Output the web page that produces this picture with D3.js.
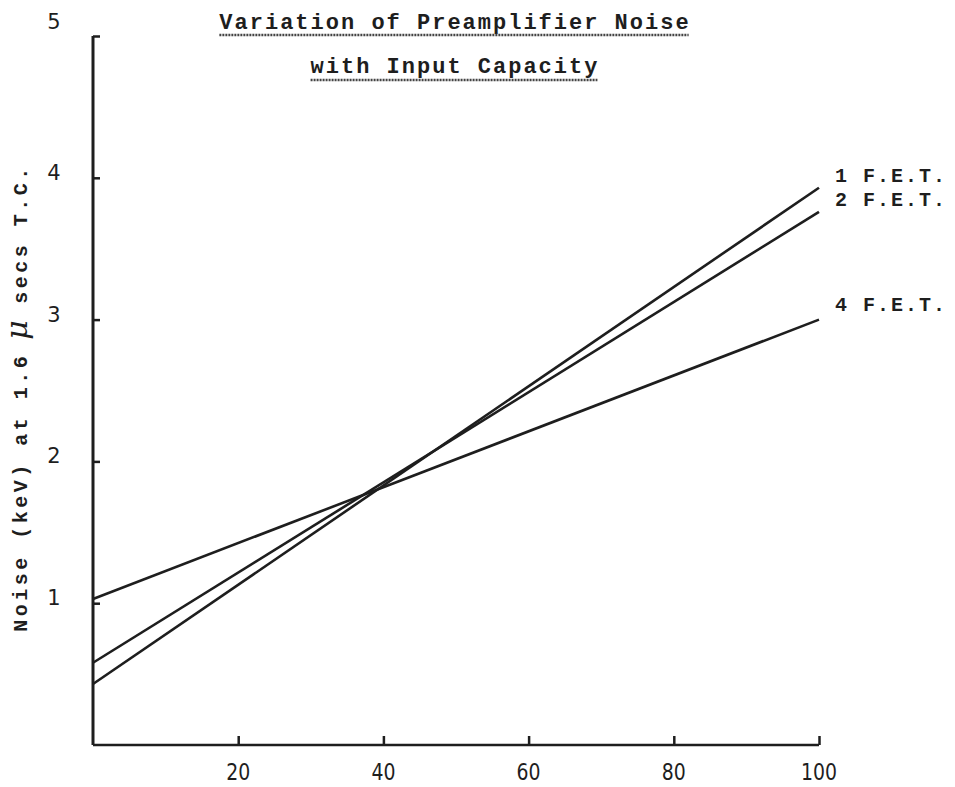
<!DOCTYPE html>
<html><head><meta charset="utf-8">
<script src="https://cdn.jsdelivr.net/npm/d3@7"></script>
<style>body{margin:0;background:#fff}svg{display:block}</style>
</head><body>
<script>
const capacity = [0, 100];
const fet1 = [0.43, 3.93];
const fet2 = [0.58, 3.76];
const fet4 = [1.03, 3.0];
const seriesNames = ["1 F.E.T.", "2 F.E.T.", "4 F.E.T."];
const xTicks = [20, 40, 60, 80, 100];
const yTicks = [1, 2, 3, 4, 5];
const titleLines = ["Variation of Preamplifier Noise", "with Input Capacity"];

const W = 955, H = 787;
const svg = d3.select("body").append("svg").attr("width", W).attr("height", H);
const ink = "#1e1e1e";
const x = d3.scaleLinear().domain([0, 100]).range([93, 819]);
const y = d3.scaleLinear().domain([0, 5]).range([745, 36]);

// axes
const xAxis = d3.axisBottom(x).tickValues(xTicks).tickSize(-9).tickFormat("");
const gx = svg.append("g").attr("transform", `translate(0,${y(0)})`).call(xAxis);
gx.select(".domain").attr("stroke", ink).attr("stroke-width", 2.5).attr("d", `M${x(0)},0H${x(100)}`);
gx.selectAll(".tick line").attr("stroke", ink).attr("stroke-width", 2.5);

const yAxis = d3.axisLeft(y).tickValues(yTicks).tickSize(-7).tickFormat("");
const gy = svg.append("g").attr("transform", `translate(${x(0)},0)`).call(yAxis);
gy.select(".domain").attr("stroke", ink).attr("stroke-width", 3).attr("d", `M0,${y(0)}V${y(5)}`);
gy.selectAll(".tick line").attr("stroke", ink).attr("stroke-width", 2.5);

// tick labels
svg.append("g").selectAll("text").data(xTicks).join("text")
  .attr("x", d => x(d)).attr("y", 780).attr("text-anchor", "middle")
  .attr("font-family", "DejaVu Sans").attr("font-size", 23).attr("fill", ink)
  .attr("transform", d => `translate(${x(d)},0) scale(0.82,1) translate(${-x(d)},0)`)
  .text(d => d);
svg.append("g").selectAll("text").data(yTicks).join("text")
  .attr("x", 54).attr("y", d => y(d) + (d === 5 ? -7 : 2)).attr("text-anchor", "middle")
  .attr("font-family", "DejaVu Sans").attr("font-size", 21).attr("fill", ink)
  .text(d => d);

// y axis title
const yt = svg.append("text").attr("transform", "translate(27,398) rotate(-90)")
  .attr("text-anchor", "middle").attr("font-family", "Liberation Mono").attr("font-size", 20)
  .attr("letter-spacing", 3.5).attr("fill", ink).attr("font-weight", "bold");
yt.append("tspan").text("Noise (keV) at 1.6");
yt.append("tspan").attr("font-size", 30).attr("font-family", "DejaVu Serif").attr("font-style", "italic").attr("font-weight", "normal").text(" μ ");
yt.append("tspan").text("secs T.C.");

// title
titleLines.forEach((t, i) => {
  const tx = svg.append("text").attr("x", 455).attr("y", 29 + i * 44)
    .attr("text-anchor", "middle").attr("font-family", "Liberation Mono")
    .attr("font-weight", "bold").attr("font-size", 22).attr("letter-spacing", 2)
    .attr("fill", ink).text(t);
  const bb = tx.node().getBBox();
  svg.append("line").attr("x1", bb.x).attr("x2", bb.x + bb.width - 2)
    .attr("y1", 35 + i * 45).attr("y2", 35 + i * 45)
    .attr("stroke", "#444").attr("stroke-width", 2.5).attr("stroke-dasharray", "2,1");
});

// lines
const series = [fet1, fet2, fet4];
const line = d3.line().x((d, i) => x(capacity[i])).y(d => y(d));
svg.append("g").selectAll("path").data(series).join("path")
  .attr("d", d => line(d)).attr("fill", "none").attr("stroke", ink).attr("stroke-width", 2.6);

// labels
const labelY = [fet1[1], fet2[1], fet4[1]];
const labelOff = [-11, -11, -14];
svg.append("g").selectAll("text").data(seriesNames).join("text")
  .attr("x", 835).attr("y", (d, i) => y(labelY[i]) + labelOff[i])
  .attr("font-family", "Liberation Mono").attr("font-weight", "bold").attr("font-size", 20)
  .attr("letter-spacing", 2).attr("fill", ink).attr("dominant-baseline", "middle")
  .text(d => d);
</script>
</body></html>
